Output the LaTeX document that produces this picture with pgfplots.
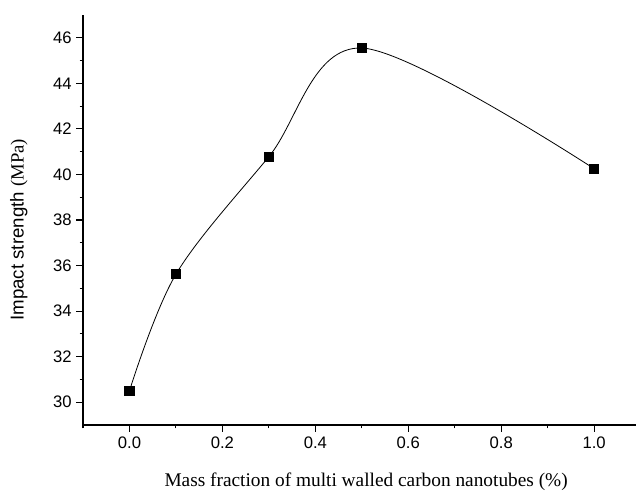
\documentclass[border=0pt]{standalone}
\usepackage{pgfplots}
\pgfplotsset{compat=1.18}
\usepackage{fontspec}
\setmainfont{Liberation Sans}
\newfontfamily\timesfont{Liberation Serif}
\usetikzlibrary{calc}

\begin{document}
\begin{tikzpicture}
\begin{axis}[
    width=414.75pt, height=307.5pt, scale only axis,
    xmin=-0.1, xmax=1.09, ymin=29, ymax=47,
    axis lines=left, axis line style={-, line width=0.9pt},
    tick align=outside, major tick length=5pt,
    every tick/.style={black, line width=0.8pt},
    minor tick length=2.6pt,
    xtick={0,0.2,...,1.0}, minor x tick num=1,
    ytick={30,32,...,46}, minor y tick num=1,
    extra x ticks={-0.1}, extra x tick labels={},
    extra x tick style={major tick length=2.6pt},
    xticklabel style={/pgf/number format/.cd, fixed, fixed zerofill, precision=1},
    /pgf/number format/assume math mode=true,
    tick label style={font=\fontsize{12.5}{14}\selectfont},
    xlabel={\timesfont Mass fraction of multi walled carbon nanotubes (\%)},
    xlabel style={font=\fontsize{14.5}{16}\selectfont, at={(axis description cs:0.512,-0.139)}, anchor=center},
    ylabel={Impact strength {\timesfont (MPa)}},
    ylabel style={font=\fontsize{14}{16}\selectfont, at={(axis description cs:-0.116,0.476)}, anchor=center},
    clip=false,
]
  \addplot[black, line width=0.6pt, smooth, tension=0.55, mark=square*, mark size=3.5pt,
           mark options={fill=black, line width=0pt}]
    coordinates {(0,30.5) (0.1,35.62) (0.3,40.78) (0.5,45.55) (1.0,40.25)};
  \path (rel axis cs:0,0) coordinate (sw) (rel axis cs:1,1) coordinate (ne);
\end{axis}
\pgfresetboundingbox
\path[use as bounding box] ($(sw)+(-62.25pt,-54pt)$) rectangle ($(ne)+(0,11.25pt)$);
\end{tikzpicture}
\end{document}
